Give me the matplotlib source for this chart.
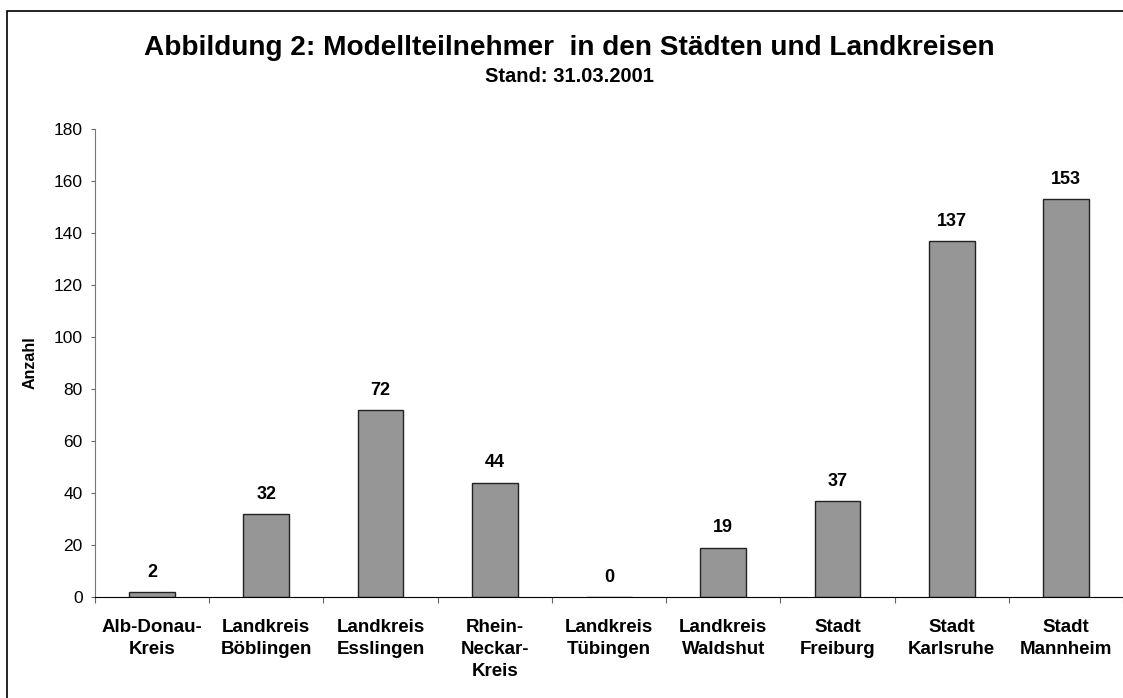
import matplotlib
matplotlib.use("Agg")
import matplotlib.pyplot as plt
from matplotlib.patches import Rectangle

plt.rcParams['font.family'] = ['Liberation Sans', 'DejaVu Sans']

kategorien = ["Alb-Donau-\nKreis", "Landkreis\nBöblingen", "Landkreis\nEsslingen",
              "Rhein-\nNeckar-\nKreis", "Landkreis\nTübingen", "Landkreis\nWaldshut",
              "Stadt\nFreiburg", "Stadt\nKarlsruhe", "Stadt\nMannheim"]
anzahl = [2, 32, 72, 44, 0, 19, 37, 137, 153]
y_ticks = [0, 20, 40, 60, 80, 100, 120, 140, 160, 180]

W, H = 1123, 698
fig = plt.figure(figsize=(W / 100, H / 100), dpi=100)
ax = fig.add_axes([95 / W, 1 - 597 / H, 1 - 95 / W, (597 - 129) / H])

x = range(len(anzahl))
ax.bar(x, anzahl, width=0.4, color='#969696', edgecolor='#222222', linewidth=1)
for xi, v in zip(x, anzahl):
    ax.annotate(str(v), (xi, v), xytext=(0, 8), textcoords='offset points',
                ha='center', va='bottom', fontsize=13, fontweight='bold')

ax.set_xlim(-0.5, len(anzahl) - 0.5)
ax.set_ylim(0, 180)
ax.set_yticks(y_ticks)
ax.tick_params(axis='y', labelsize=12.5, length=3, color='#666666', pad=6)
ax.set_xticks([i + 0.5 for i in range(-1, len(anzahl))], minor=False)
ax.set_xticklabels([])
ax.set_xticks(list(x), minor=True)
ax.set_xticklabels(kategorien, minor=True, fontsize=13.5, fontweight='bold', linespacing=1.37)
ax.tick_params(axis='x', which='major', length=4, color='#666666')
ax.tick_params(axis='x', which='minor', length=0, pad=16)
ax.spines['top'].set_visible(False)
ax.spines['right'].set_visible(False)
ax.spines['left'].set_color('#777777')
ax.spines['bottom'].set_color('black')
ax.set_ylabel('Anzahl', fontsize=11.5, fontweight='bold')
ax.yaxis.set_label_coords((38 - 95) / (W - 95), 0.5)

fig.text(569 / W, 1 - 48 / H, 'Abbildung 2: Modellteilnehmer  in den Städten und Landkreisen',
         ha='center', va='center', fontsize=20.2, fontweight='bold')
fig.text(569 / W, 1 - 77 / H, 'Stand: 31.03.2001', ha='center', va='center',
         fontsize=14.5, fontweight='bold')

fig.patches.append(Rectangle((7 / W, -20 / H), (W + 20) / W, (H - 10.5 + 20) / H,
                             transform=fig.transFigure, fill=False, edgecolor='black', linewidth=1.2))

fig.savefig('out.png', dpi=100)
